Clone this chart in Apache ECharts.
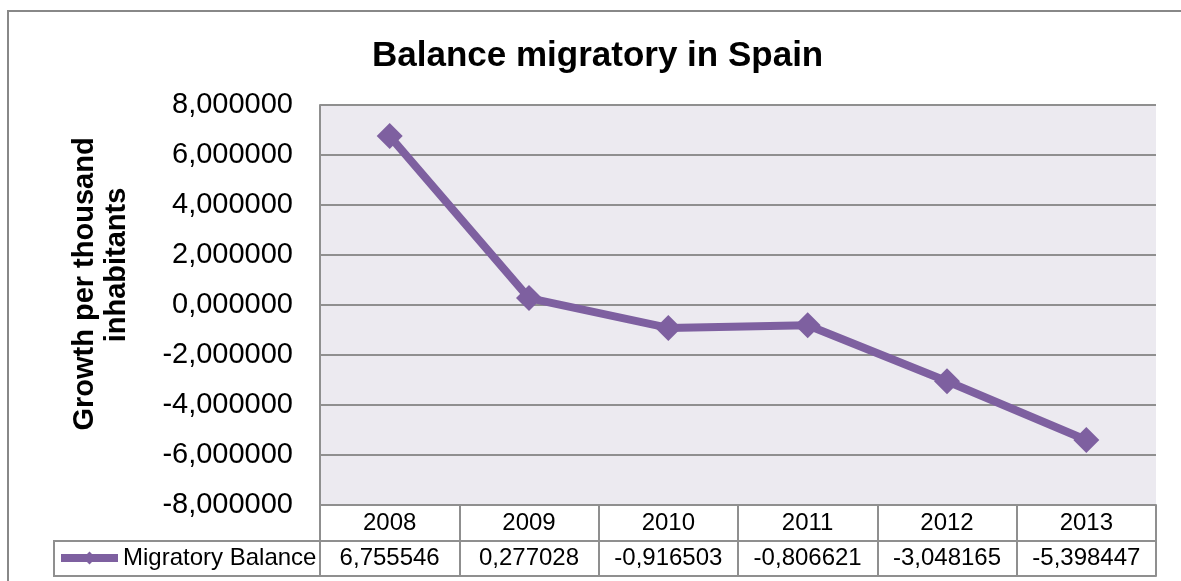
<!DOCTYPE html>
<html>
<head>
<meta charset="utf-8">
<script src="https://cdn.jsdelivr.net/npm/echarts@6/dist/echarts.min.js"></script>
<style>
  html, body { margin: 0; padding: 0; background: #fff; }
  #main { width: 1181px; height: 581px; }
</style>
</head>
<body>
<div id="main"></div>
<script>
// data
const years = ['2008', '2009', '2010', '2011', '2012', '2013'];
const balance = [6.755546, 0.277028, -0.916503, -0.806621, -3.048165, -5.398447];
const yMin = -8, yMax = 8, yStep = 2;

const FONT = '"Liberation Sans", Arial, sans-serif';
const GRID_COLOR = '#8f8f8f';
const PURPLE = '#7e60a0';

// excel style: comma decimal, 6 digits
const fmt = v => v.toFixed(6).replace('.', ',');

const chart = echarts.init(document.getElementById('main'));

const option = {
  animation: false,
  textStyle: { fontFamily: FONT },
  title: {
    text: 'Balance migratory in Spain',
    left: 372,
    top: 39,
    padding: 0,
    textStyle: { fontSize: 35, fontWeight: 'bold', color: '#000', fontFamily: FONT }
  },
  legend: {
    left: 57,
    top: 546,
    padding: 0,
    itemWidth: 57,
    itemHeight: 16,
    lineStyle: { width: 8, color: PURPLE },
    textStyle: { fontSize: 24, color: '#000', fontFamily: FONT },
    data: ['Migratory Balance']
  },
  grid: {
    left: 320,
    right: 25,
    top: 105,
    bottom: 76,
    show: true,
    backgroundColor: '#eceaf0',
    borderWidth: 0
  },
  xAxis: [
    {
      type: 'category',
      data: years,
      boundaryGap: true,
      axisLine: { show: true, onZero: false, lineStyle: { color: GRID_COLOR, width: 2 } },
      axisTick: { show: true, interval: 0, length: 71, lineStyle: { color: GRID_COLOR, width: 2 } },
      axisLabel: { interval: 0, margin: 6, fontSize: 24, color: '#000', fontFamily: FONT }
    },
    {
      // data table row with the values
      type: 'category',
      data: balance.map(fmt),
      position: 'bottom',
      offset: 36,
      axisLine: { show: true, onZero: false, lineStyle: { color: GRID_COLOR, width: 2 } },
      axisTick: { show: false },
      axisLabel: { interval: 0, margin: 5, fontSize: 24, color: '#000', fontFamily: FONT }
    },
    {
      type: 'category',
      data: years,
      position: 'bottom',
      offset: 71,
      axisLine: { show: true, onZero: false, lineStyle: { color: GRID_COLOR, width: 2 } },
      axisTick: { show: false },
      axisLabel: { show: false }
    }
  ],
  yAxis: {
    type: 'value',
    min: yMin,
    max: yMax,
    interval: yStep,
    axisLine: { show: true, lineStyle: { color: GRID_COLOR, width: 2 } },
    axisTick: { show: false },
    splitLine: { show: true, lineStyle: { color: GRID_COLOR, width: 2 } },
    axisLabel: { margin: 27, fontSize: 29, color: '#000', fontFamily: FONT, formatter: fmt }
  },
  graphic: [
    {
      type: 'rect',
      shape: { x: 8, y: 11, width: 1400, height: 800 },
      style: { fill: 'none', stroke: '#888', lineWidth: 2 },
      silent: true
    },
    {
      // legend cell of the data table
      type: 'polyline',
      shape: { points: [[320, 541], [54, 541], [54, 576], [320, 576]] },
      style: { fill: 'none', stroke: GRID_COLOR, lineWidth: 2 },
      silent: true
    },
    {
      type: 'text',
      x: 85, y: 284,
      rotation: Math.PI / 2,
      style: {
        text: 'Growth per thousand',
        font: 'bold 29px ' + FONT,
        fill: '#000',
        align: 'center',
        verticalAlign: 'middle'
      }
    },
    {
      type: 'text',
      x: 117, y: 265,
      rotation: Math.PI / 2,
      style: {
        text: 'inhabitants',
        font: 'bold 29px ' + FONT,
        fill: '#000',
        align: 'center',
        verticalAlign: 'middle'
      }
    }
  ],
  series: [
    {
      name: 'Migratory Balance',
      type: 'line',
      data: balance,
      symbol: 'diamond',
      symbolSize: 26,
      lineStyle: { color: PURPLE, width: 8 },
      itemStyle: { color: PURPLE },
      z: 5
    }
  ]
};

option && chart.setOption(option);
</script>
</body>
</html>
